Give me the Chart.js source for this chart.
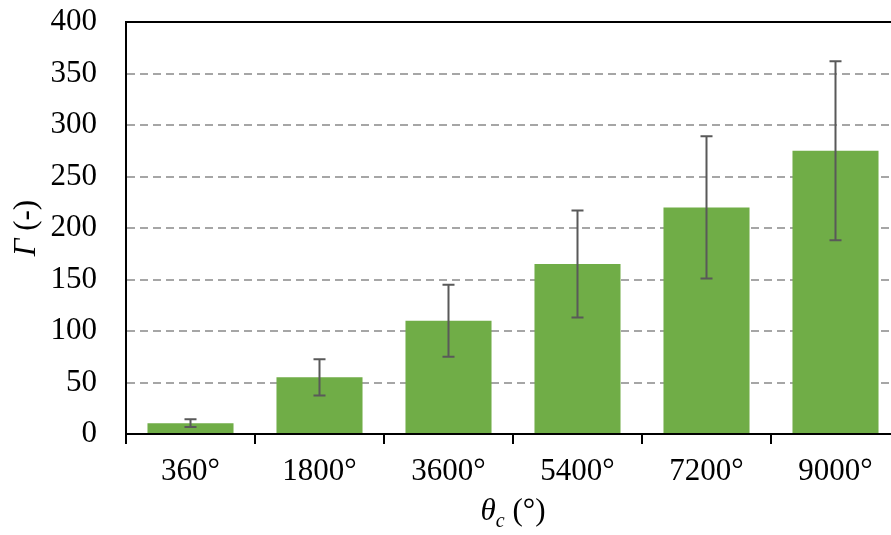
<!DOCTYPE html>
<html lang="en">
<head>
    <meta charset="UTF-8">
    <title>Gamma vs theta_c</title>
    <script src="https://cdn.jsdelivr.net/npm/chart.js@4.4.8/dist/chart.umd.min.js"></script>
    <style>
        html, body {
            margin: 0;
            padding: 0;
            background: #ffffff;
            overflow: hidden;
        }
        #wrap {
            position: relative;
            width: 900px;
            height: 535px;
        }
    </style>
</head>
<body>

    <div id="wrap"><canvas id="myChart"></canvas></div>

<script>

    const categories = ['360°', '1800°', '3600°', '5400°', '7200°', '9000°']
    const gamma = [10.5, 55, 110, 165, 220, 275]
    const gammaErr = [3.8, 17.5, 35, 52, 69, 87]
    const yTicks = [0, 50, 100, 150, 200, 250, 300, 350, 400]

    const serif = '"Liberation Serif", "Times New Roman", serif'
    const fontSize = 31

    // vertical error bars with caps, drawn over the bars
    const errorBars = {
        id: 'errorBars',
        afterDatasetsDraw(chart) {
            const ctx = chart.ctx
            const y = chart.scales.y
            const meta = chart.getDatasetMeta(0)
            ctx.save()
            ctx.strokeStyle = '#595959'
            ctx.lineWidth = 2
            meta.data.forEach((bar, i) => {
                const hi = y.getPixelForValue(gamma[i] + gammaErr[i])
                const lo = y.getPixelForValue(gamma[i] - gammaErr[i])
                ctx.beginPath()
                ctx.moveTo(bar.x, hi)
                ctx.lineTo(bar.x, lo)
                ctx.moveTo(bar.x - 6, hi)
                ctx.lineTo(bar.x + 6, hi)
                ctx.moveTo(bar.x - 6, lo)
                ctx.lineTo(bar.x + 6, lo)
                ctx.stroke()
            })
            ctx.restore()
        }
    }

    // top frame line and the two axis titles (italic symbols, subscript c)
    const frameAndTitles = {
        id: 'frameAndTitles',
        afterDraw(chart) {
            const ctx = chart.ctx
            const area = chart.chartArea
            ctx.save()

            ctx.strokeStyle = '#000'
            ctx.lineWidth = 2
            ctx.beginPath()
            ctx.moveTo(area.left - 1, area.top)
            ctx.lineTo(area.right, area.top)
            ctx.stroke()

            ctx.fillStyle = '#000'
            ctx.textBaseline = 'alphabetic'
            ctx.textAlign = 'left'

            // x title: θc (°)
            const fIt = `italic ${fontSize}px ${serif}`
            const fSub = `italic ${Math.round(fontSize * 0.65)}px ${serif}`
            const fUp = `${fontSize}px ${serif}`
            ctx.font = fIt
            const w1 = ctx.measureText('θ').width
            ctx.font = fSub
            const w2 = ctx.measureText('c').width
            ctx.font = fUp
            const w3 = ctx.measureText(' (°)').width
            let x = (area.left + area.right) / 2 - (w1 + w2 + w3) / 2
            const base = 520
            ctx.font = fIt
            ctx.fillText('θ', x, base)
            x += w1
            ctx.font = fSub
            ctx.fillText('c', x, base + 7)
            x += w2
            ctx.font = fUp
            ctx.fillText(' (°)', x, base)

            // y title: Γ (-)
            ctx.translate(35, (area.top + area.bottom) / 2)
            ctx.rotate(-Math.PI / 2)
            ctx.font = fIt
            const g1 = ctx.measureText('Γ').width
            ctx.font = fUp
            const g2 = ctx.measureText(' (-)').width
            let gx = -(g1 + g2) / 2
            ctx.font = fIt
            ctx.fillText('Γ', gx, 0)
            ctx.font = fUp
            ctx.fillText(' (-)', gx + g1, 0)

            ctx.restore()
        }
    }

    const ctx = document.getElementById('myChart')
    const chart = new Chart(ctx, {
        type: 'bar',
        data: {
            labels: categories,
            datasets: [{
                data: gamma,
                backgroundColor: '#70AD47',
                borderWidth: 0,
                categoryPercentage: 1,
                barPercentage: 0.667
            }]
        },
        options: {
            responsive: true,
            maintainAspectRatio: false,
            animation: false,
            devicePixelRatio: 1,
            layout: {
                padding: 0
            },
            plugins: {
                legend: { display: false },
                tooltip: { enabled: false }
            },
            scales: {
                x: {
                    offset: true,
                    grid: {
                        offset: true,
                        drawOnChartArea: false,
                        drawTicks: true,
                        tickLength: 10,
                        color: '#000',
                        lineWidth: 2
                    },
                    border: { display: true, color: '#000', width: 2 },
                    ticks: {
                        color: '#000',
                        font: { family: serif, size: fontSize },
                        padding: 9,
                        maxRotation: 0,
                        autoSkip: false
                    },
                    afterFit: s => { s.height = 101 }
                },
                y: {
                    min: 0,
                    max: 400,
                    afterBuildTicks: s => { s.ticks = yTicks.map(v => ({ value: v })) },
                    grid: {
                        drawTicks: false,
                        lineWidth: 2,
                        color: c => (c.tick && (c.tick.value === 0 || c.tick.value === 400)) ? 'rgba(0,0,0,0)' : '#A6A6A6'
                    },
                    border: { display: true, color: '#000', width: 2, dash: [8, 5] },
                    ticks: {
                        color: '#000',
                        font: { family: serif, size: fontSize },
                        padding: 29
                    },
                    afterFit: s => {
                        s.width = 126
                        s.paddingTop = 22
                        s.paddingBottom = 0
                    }
                }
            }
        },
        plugins: [errorBars, frameAndTitles]
    })

</script>
</body>
</html>
